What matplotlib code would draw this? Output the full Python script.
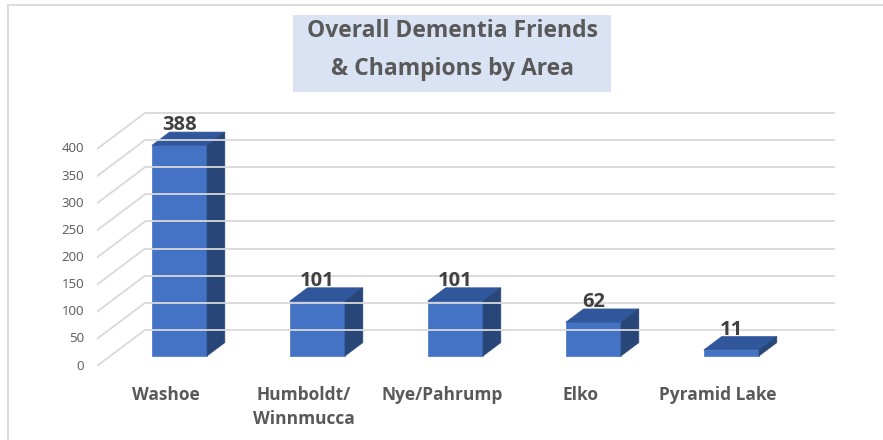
import matplotlib.pyplot as plt
from matplotlib.patches import Polygon, Rectangle
from matplotlib.lines import Line2D

# Chart data
areas = ['Washoe', 'Humboldt/\nWinnmucca', 'Nye/Pahrump', 'Elko', 'Pyramid Lake']
counts = [388, 101, 101, 62, 11]
ticks = [0, 50, 100, 150, 200, 250, 300, 350, 400]
title_lines = ['Overall Dementia Friends', '& Champions by Area']

plt.rcParams['font.family'] = ['Open Sans', 'DejaVu Sans']

W, H = 883, 440
fig = plt.figure(figsize=(W / 100, H / 100), dpi=100)

# oblique depth of the 3d box, in data units (x: categories, y: values)
DX = 48 / 138
DY = 66.4
px_per_val = 217 / 400
xmin, xmax = -0.5, 4.85
ymin, ymax = 0, 470
ax = fig.add_axes([97 / W, 74 / H, (xmax - xmin) * 138 / W, (ymax - ymin) * px_per_val / H])
ax.set_xlim(xmin, xmax)
ax.set_ylim(ymin, ymax)
ax.axis('off')

grid_c = '#d9d9d9'
for t in ticks:
    # back wall gridline
    ax.plot([-0.5 + DX, 4.5 + DX], [t + DY, t + DY], color=grid_c, lw=1.3, solid_capstyle='butt')
    # side wall diagonal
    ax.plot([-0.5, -0.5 + DX], [t, t + DY], color=grid_c, lw=1.3)
    ax.text(-0.5 - 13 / 138, t, str(t), ha='right', va='center', fontsize=9.5, color='#595959')

front_c, top_c, side_c = '#4472C4', '#30569B', '#284678'
d0, d1 = 0.28, 0.65
dd = d1 - d0
half = 0.2
for i, (name, v) in enumerate(zip(areas, counts)):
    x0 = i - half + d0 * DX
    x1 = i + half + d0 * DX
    y0 = d0 * DY
    y1 = y0 + v
    ax.add_patch(Polygon([(x0, y0), (x1, y0), (x1, y1), (x0, y1)], closed=True, fc=front_c, ec=front_c, lw=0.5))
    ax.add_patch(Polygon([(x0, y1), (x1, y1), (x1 + dd * DX, y1 + dd * DY), (x0 + dd * DX, y1 + dd * DY)],
                         closed=True, fc=top_c, ec=top_c, lw=0.5))
    ax.add_patch(Polygon([(x1, y0), (x1 + dd * DX, y0 + dd * DY), (x1 + dd * DX, y1 + dd * DY), (x1, y1)],
                         closed=True, fc=side_c, ec=side_c, lw=0.5))
    ax.text(i + d0 * DX, y1 + dd * DY - 6, str(v), ha='center', va='bottom', fontsize=14.5,
            fontweight='bold', color='#404040')
    # category label, one line at a time
    for k, line in enumerate(name.split('\n')):
        ax.text(i, -62.7 - k * 44.2, line, ha='center', va='baseline', fontsize=12.5, fontweight='bold',
                color='#595959', clip_on=False)

# title box
fig.add_artist(Rectangle((293 / W, 1 - 92 / H), 318 / W, 77 / H, transform=fig.transFigure,
                         fc='#DAE3F3', ec='none'))
for k, line in enumerate(title_lines):
    fig.text(452 / W, 1 - (37 + k * 38) / H, line, ha='center', va='baseline',
             fontsize=16.5, fontweight='bold', color='#595959')

# chart border (only top and left edges show)
fig.add_artist(Line2D([8 / W, 1], [1 - 5 / H, 1 - 5 / H], transform=fig.transFigure, color=grid_c, lw=1.3))
fig.add_artist(Line2D([8 / W, 8 / W], [0, 1 - 5 / H], transform=fig.transFigure, color=grid_c, lw=1.3))

fig.savefig('out.png', dpi=100)
